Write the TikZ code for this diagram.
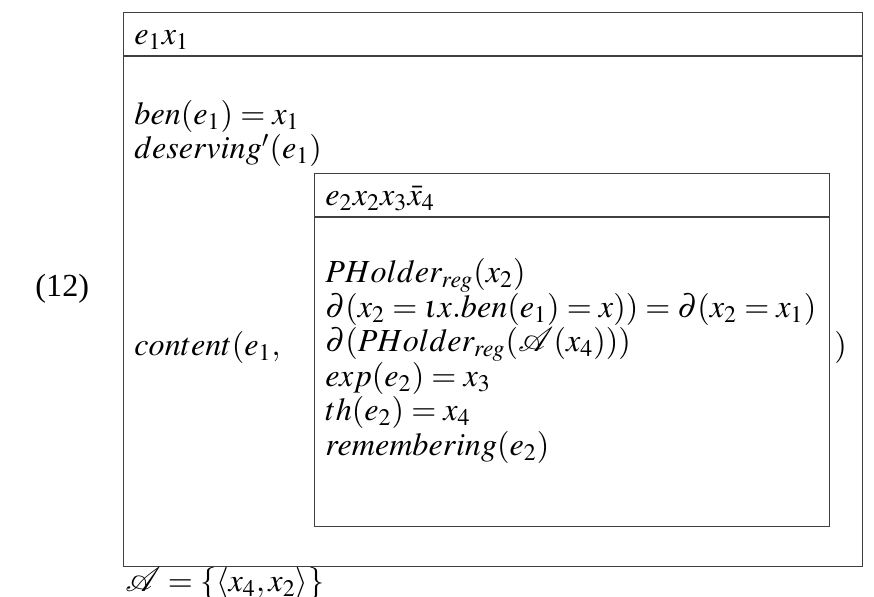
\documentclass[tikz,border=0pt]{standalone}
\usepackage{mathptmx}
\usepackage{mathrsfs}
\usepackage{fontspec}
\setmainfont{Liberation Serif}
\begin{document}
\begin{tikzpicture}[x=0.42pt,y=-0.42pt,
  box/.style={draw=black!75,line width=0.5pt,rectangle,inner sep=0pt},
  sep/.style={draw=black!75,line width=0.5pt},
  txt/.style={anchor=base west,inner sep=0pt,font=\fontsize{13.5}{16}\selectfont}]
\useasboundingbox (0,0) rectangle (874,597);
% outer box
\node[box,minimum width=739*0.42pt,minimum height=554*0.42pt,anchor=north west] (outer) at (123,12) {};
\coordinate (oh1) at (123,56);
\coordinate (oh2) at (862,56);
\draw[sep] (oh1) -- (oh2);
% inner box
\node[box,minimum width=515*0.42pt,minimum height=353*0.42pt,anchor=north west] (inner) at (314,173) {};
\coordinate (ih1) at (314,217);
\coordinate (ih2) at (829,217);
\draw[sep] (ih1) -- (ih2);
% labels
\node[txt] (num) at (35,297) {(12)};
\node[txt] (h1) at (134,45) {$e_1x_1$};
\node[txt] (l1) at (134,125) {$ben(e_1)=x_1$};
\node[txt] (l2) at (134,159) {$deserving'(e_1)$};
\node[txt] (c1) at (134,356) {$content(e_1,$};
\node[txt] (c2) at (834,356) {$)$};
\node[txt] (h2) at (325,206) {$e_2x_2x_3\bar{x}_4$};
\node[txt] (m1) at (325,283) {$PHolder_{reg}(x_2)$};
\node[txt] (m2) at (325,317.5) {$\partial(x_2=\iota x.ben(e_1)=x))=\partial(x_2=x_1)$};
\node[txt] (m3) at (325,352) {$\partial(PHolder_{reg}(\mathscr{A}(x_4)))$};
\node[txt] (m4) at (325,386.5) {$exp(e_2)=x_3$};
\node[txt] (m5) at (325,421) {$th(e_2)=x_4$};
\node[txt] (m6) at (325,455.5) {$remembering(e_2)$};
\node[txt] (set) at (125,592) {$\mathscr{A}=\{\langle x_4,x_2\rangle\}$};
\end{tikzpicture}
\end{document}
